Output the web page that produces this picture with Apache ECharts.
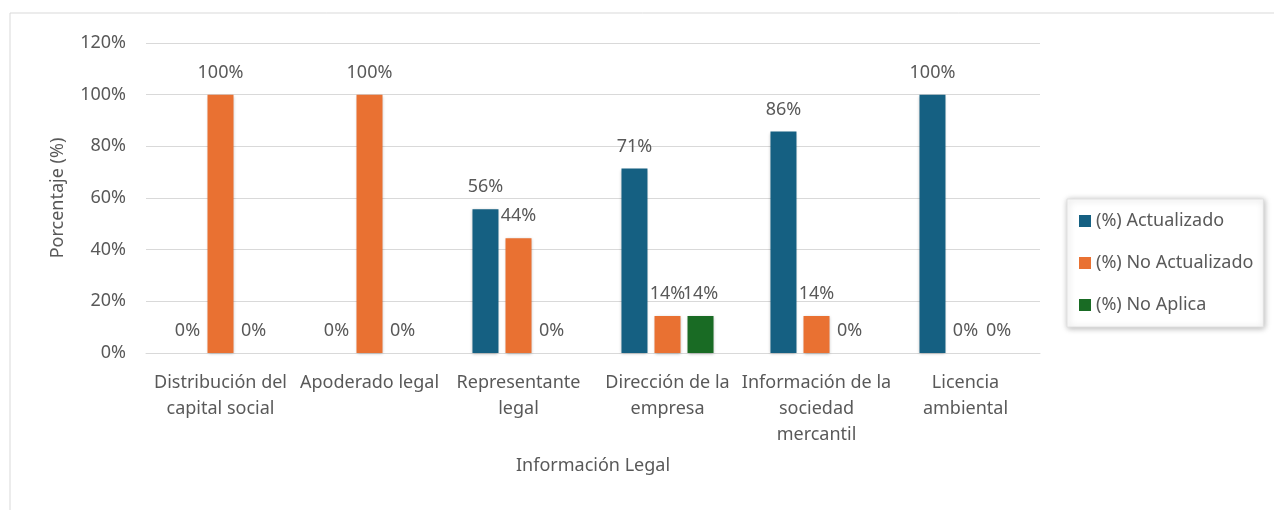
<!DOCTYPE html>
<html>
<head>
<meta charset="utf-8">
<script src="https://cdn.jsdelivr.net/npm/echarts@6/dist/echarts.min.js"></script>
<style>
  html, body { margin: 0; padding: 0; background: #fff; }
  #chart { width: 1274px; height: 510px; }
</style>
</head>
<body>
<div id="chart"></div>
<script>
// categorias (con saltos de linea como en el original)
let categorias = [
    'Distribución del\ncapital social',
    'Apoderado legal',
    'Representante\nlegal',
    'Dirección de la\nempresa',
    'Información de la\nsociedad\nmercantil',
    'Licencia\nambiental'
];
let actualizado = [0, 0, 55.6, 71.4, 85.7, 100];
let noActualizado = [100, 100, 44.4, 14.3, 14.3, 0];
let noAplica = [0, 0, 0, 14.3, 0, 0];
let yTicks = [0, 20, 40, 60, 80, 100, 120];

let fuente = 'Noto Sans';
let gris = '#595959';

let chart = echarts.init(document.getElementById('chart'));

function serie(nombre, datos, color) {
    return {
        name: nombre,
        type: 'bar',
        data: datos,
        barWidth: 26,
        barGap: '27%',
        itemStyle: {
            color: color,
            shadowColor: 'rgba(0,0,0,0.25)',
            shadowBlur: 3,
            shadowOffsetY: 1
        },
        label: {
            show: true,
            position: 'top',
            distance: 13,
            color: gris,
            fontFamily: fuente,
            fontSize: 18,
            formatter: p => Math.round(p.value) + '%'
        }
    };
}

let option = {
    animation: false,
    textStyle: { fontFamily: fuente },
    graphic: [{
        type: 'rect',
        shape: { x: 10, y: 13, width: 1268, height: 500 },
        style: { fill: 'none', stroke: '#d9d9d9', lineWidth: 1 },
        silent: true
    }],
    grid: { left: 146, right: 234, top: 43, bottom: 157 },
    legend: {
        orient: 'vertical',
        left: 1067,
        top: 199,
        padding: [13, 10, 13, 12],
        itemGap: 24,
        itemWidth: 12,
        itemHeight: 12,
        icon: 'rect',
        backgroundColor: '#fff',
        borderColor: '#e0e0e0',
        borderWidth: 1,
        shadowColor: 'rgba(0,0,0,0.3)',
        shadowBlur: 6,
        shadowOffsetX: 1,
        shadowOffsetY: 1,
        textStyle: { color: gris, fontSize: 18, fontFamily: fuente }
    },
    xAxis: {
        type: 'category',
        data: categorias,
        name: 'Información Legal',
        nameLocation: 'middle',
        nameGap: 104,
        nameTextStyle: { color: gris, fontSize: 18, fontFamily: fuente },
        axisLine: { lineStyle: { color: '#d9d9d9' } },
        axisTick: { show: false },
        axisLabel: {
            color: gris, fontSize: 18, fontFamily: fuente,
            margin: 17, lineHeight: 26, interval: 0
        }
    },
    yAxis: {
        type: 'value',
        min: yTicks[0],
        max: yTicks[yTicks.length - 1],
        interval: yTicks[1] - yTicks[0],
        name: 'Porcentaje (%)',
        nameLocation: 'middle',
        nameGap: 79,
        nameTextStyle: { color: gris, fontSize: 18, fontFamily: fuente },
        axisLine: { show: false },
        axisTick: { show: false },
        splitLine: { lineStyle: { color: '#d9d9d9' } },
        axisLabel: {
            color: gris, fontSize: 18, fontFamily: fuente,
            margin: 20, formatter: '{value}%'
        }
    },
    series: [
        serie('(%) Actualizado', actualizado, '#156082'),
        serie('(%) No Actualizado', noActualizado, '#E97132'),
        serie('(%) No Aplica', noAplica, '#196B24')
    ]
};

chart.setOption(option);
</script>
</body>
</html>
